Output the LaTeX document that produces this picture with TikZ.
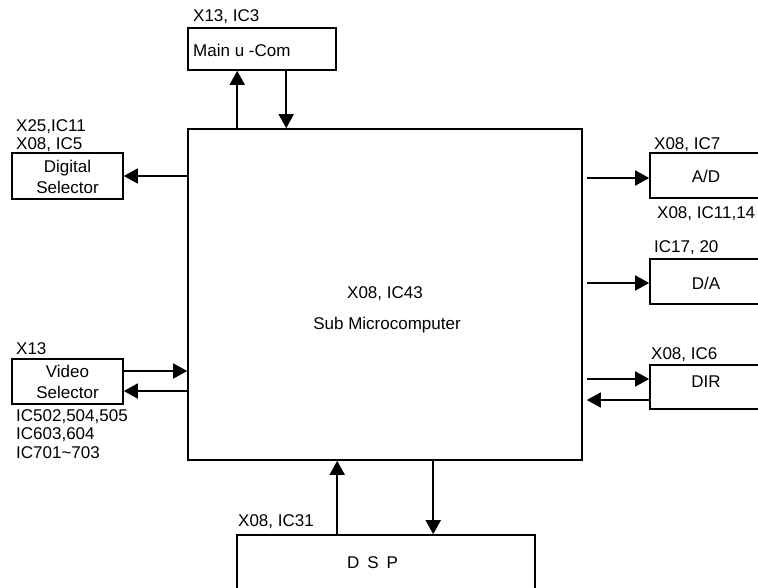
\documentclass[tikz,border=0pt]{standalone}
\usepackage{fontspec}
\setmainfont{Liberation Sans}
\usetikzlibrary{arrows.meta,calc}
\tikzset{
  box/.style={draw, line width=1.6pt, inner sep=0pt},
  txt/.style={inner sep=0pt, font=\fontsize{17}{21}\selectfont},
  lbl/.style={txt, anchor=west},
  arr/.style={line width=1.6pt, -{Triangle[length=14pt,width=15pt]}},
}
\begin{document}
\begin{tikzpicture}[x=1pt,y=-1pt]
\useasboundingbox (0,0) rectangle (758,587);
% boxes
\node[box, minimum width=148pt, minimum height=42pt] (main) at (262,49) {};
\node[box, minimum width=394pt, minimum height=331pt] (sub) at (385,294.5) {};
\node[box, minimum width=111pt, minimum height=46pt] (dig) at (67.5,176) {};
\node[box, minimum width=111pt, minimum height=45pt] (vid) at (67.5,381.5) {};
\node[box, minimum width=114pt, minimum height=45pt] (ad) at (707,175.5) {};
\node[box, minimum width=114pt, minimum height=45pt] (da) at (707,281.5) {};
\node[box, minimum width=114pt, minimum height=44pt] (dir) at (707,387) {};
\node[box, minimum width=298pt, minimum height=70pt] (dsp) at (386,570) {};
% texts in boxes
\node[lbl] (maint) at (193,50) {Main u -Com};
\node[txt] (subt1) at (385,294) {X08, IC43};
\node[txt] (subt2) at (387,325) {Sub Microcomputer};
\node[txt, align=center] (digt) at (67.5,177) {Digital\\Selector};
\node[txt, align=center] (vidt) at (67.5,382) {Video\\Selector};
\node[txt] (adt) at (706,176) {A/D};
\node[txt] (dat) at (706,283) {D/A};
\node[txt] (dirt) at (706,382) {DIR};
\node[txt] (dspt) at (372.5,563) {D\hspace{8pt}S\hspace{8pt}P};
% labels
\node[lbl] (l1) at (193,17) {X13, IC3};
\node[lbl] (l2) at (16,127) {X25,IC11};
\node[lbl] (l3) at (16,145) {X08, IC5};
\node[lbl] (l4) at (654,145) {X08, IC7};
\node[lbl] (l5) at (657,214) {X08, IC11,14};
\node[lbl] (l6) at (654,248) {IC17, 20};
\node[lbl] (l7) at (651,355) {X08, IC6};
\node[lbl] (l8) at (16,349) {X13};
\node[lbl] (l9) at (16,417) {IC502,504,505};
\node[lbl] (l10) at (16,435) {IC603,604};
\node[lbl] (l11) at (16,453) {IC701\textasciitilde 703};
\node[lbl] (l12) at (238,522) {X08, IC31};
% arrows
\draw[arr] ($(sub.north west)+(50,0)$) -- ($(main.south west)+(50,0)$);
\draw[arr] ($(main.south west)+(99,0)$) -- ($(sub.north west)+(99,0)$);
\draw[arr] (sub.west |- dig) -- (dig.east);
\draw[arr] ($(sub.east |- ad)+(4,2.5)$) -- ($(ad.west)+(0,2.5)$);
\draw[arr] ($(sub.east |- da)+(4,1.5)$) -- ($(da.west)+(0,1.5)$);
\draw[arr] ($(sub.east |- dir)+(4,-8)$) -- ($(dir.west)+(0,-8)$);
\draw[arr] ($(dir.west)+(0,13)$) -- ($(sub.east |- dir)+(4,13)$);
\draw[arr] ($(vid.east)+(0,-10.5)$) -- ($(sub.west |- vid)+(0,-10.5)$);
\draw[arr] ($(sub.west |- vid)+(0,9.5)$) -- ($(vid.east)+(0,9.5)$);
\draw[arr] ($(dsp.north west)+(101,0)$) -- ($(sub.south west)+(150,0)$);
\draw[arr] ($(sub.south west)+(246,0)$) -- ($(dsp.north west)+(197,0)$);
\end{tikzpicture}
\end{document}
